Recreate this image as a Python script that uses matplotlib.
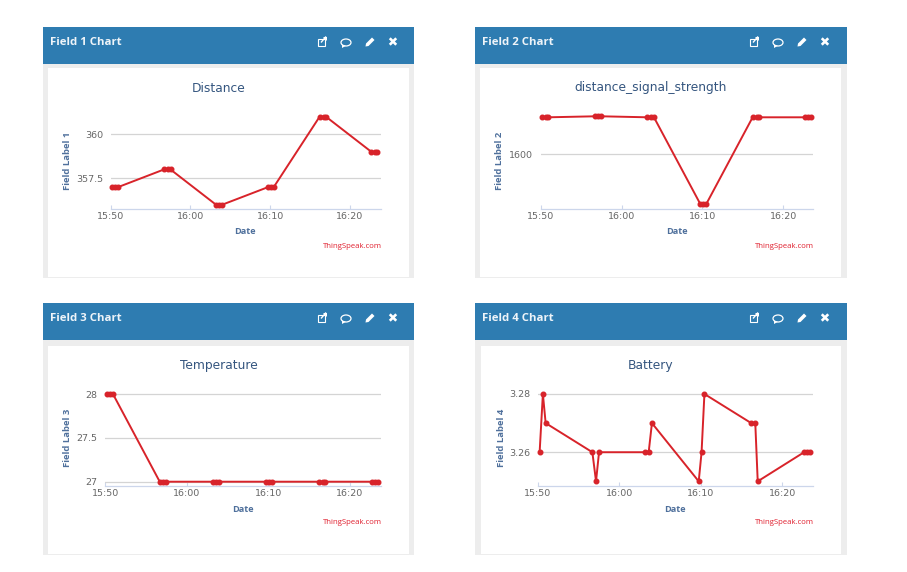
import numpy as np
import matplotlib.pyplot as plt
from matplotlib.patches import Rectangle, Ellipse, Polygon

plt.rcParams['font.family'] = ['Open Sans', 'DejaVu Sans']

W, H = 907, 572

# minutes after 15:50, three readings per visit
times = np.array([0.2, 0.6, 0.94, 6.68, 7.13, 7.5, 13.2, 13.6, 14.0,
                  19.75, 20.1, 20.45, 26.2, 26.7, 27.0, 32.7, 33.1, 33.45])

charts = [
    {'name': 'Field 1 Chart', 'title': 'Distance', 'ylabel': 'Field Label 1',
     'card': (43, 27, 414, 278), 'body': (48, 68, 409, 277),
     'box': (110.7, 381, 208.7, 100), 'xmax': 33.9, 'ylim': (355.77, 361.95),
     'yticks': [357.5, 360], 'ylabels': ['357.5', '360'],
     'title_xy': (219, 88), 'ylabel_xy': (67, 161), 'date_xy': (245, 232), 'credit_y': 246,
     'y': [357, 357, 357, 358, 358, 358, 356, 356, 356,
           357, 357, 357, 361, 361, 361, 359, 359, 359]},
    {'name': 'Field 2 Chart', 'title': 'distance_signal_strength', 'ylabel': 'Field Label 2',
     'card': (475, 27, 847, 278), 'body': (480, 68, 841, 277),
     'box': (540.7, 813.3, 208.7, 100), 'xmax': 33.7, 'ylim': (1545.6, 1654.3),
     'yticks': [1600], 'ylabels': ['1600'],
     'title_xy': (651, 88), 'ylabel_xy': (500, 161), 'date_xy': (677, 232), 'credit_y': 246,
     'y': [1637, 1637, 1637, 1638, 1638, 1638, 1637, 1637, 1637,
           1550, 1550, 1550, 1637, 1637, 1637, 1637, 1637, 1637]},
    {'name': 'Field 3 Chart', 'title': 'Temperature', 'ylabel': 'Field Label 3',
     'card': (43, 303, 414, 555), 'body': (48, 346, 409, 554),
     'box': (105.3, 381, 486, 380), 'xmax': 33.83, 'ylim': (26.951, 28.16),
     'yticks': [27, 27.5, 28], 'ylabels': ['27', '27.5', '28'],
     'title_xy': (219, 366), 'ylabel_xy': (67, 438), 'date_xy': (243, 510), 'credit_y': 523,
     'y': [28, 28, 28, 27, 27, 27, 27, 27, 27,
           27, 27, 27, 27, 27, 27, 27, 27, 27]},
    {'name': 'Field 4 Chart', 'title': 'Battery', 'ylabel': 'Field Label 4',
     'card': (475, 303, 847, 555), 'body': (481, 346, 841, 554),
     'box': (538, 813.3, 486, 380), 'xmax': 33.83, 'ylim': (3.2484, 3.2848),
     'yticks': [3.26, 3.28], 'ylabels': ['3.26', '3.28'],
     'title_xy': (651, 366), 'ylabel_xy': (501, 438), 'date_xy': (675, 510), 'credit_y': 523,
     'y': [3.26, 3.28, 3.27, 3.26, 3.25, 3.26, 3.26, 3.26, 3.27,
           3.25, 3.26, 3.28, 3.27, 3.27, 3.25, 3.26, 3.26, 3.26]},
]

plt.figure(figsize=(W / 100, H / 100), dpi=100)

# page background in pixel coordinates, cards and header icons go here
page = plt.axes([0, 0, 1, 1])
page.set_xlim(0, W)
page.set_ylim(H, 0)
page.axis('off')

for c in charts:
    x0, y0, x1, y1 = c['card']
    page.add_patch(Rectangle((x0, y0), x1 - x0, y1 - y0, color='#ededed', lw=0))
    page.add_patch(Rectangle((x0, y0), x1 - x0, 37, color='#2e7cb1', lw=0))
    bx0, by0, bx1, by1 = c['body']
    page.add_patch(Rectangle((bx0, by0), bx1 - bx0, by1 - by0, color='white', lw=0))
    page.text(x0 + 7, y0 + 15.5, c['name'], color='#eef4f9', fontsize=8.2, fontweight='bold', va='center')
    ym = y0 + 14.5
    # external link icon
    xi = x0 + 279
    page.add_patch(Rectangle((xi - 4, ym - 3), 7, 7, fill=False, ec='white', lw=0.8))
    page.add_patch(Polygon([(xi - 1, ym + 1), (xi + 4, ym - 5)], closed=False, ec='white', lw=1))
    page.add_patch(Polygon([(xi + 1, ym - 5), (xi + 5, ym - 5), (xi + 5, ym - 1)], color='white', lw=0))
    # comment bubble
    xi = x0 + 303
    page.add_patch(Ellipse((xi, ym + 1), 10, 7, fill=False, ec='white', lw=0.9))
    page.add_patch(Polygon([(xi - 4, ym + 3), (xi - 4, ym + 6.5), (xi, ym + 4.3)], color='white', lw=0))
    # pencil
    xi = x0 + 327
    page.add_patch(Polygon([(xi - 4.5, ym + 5), (xi - 4, ym + 2), (xi + 2, ym - 4), (xi + 4.5, ym - 1.5),
                            (xi - 1.5, ym + 4.5)], color='white', lw=0))
    # close cross
    xi = x0 + 350
    page.plot([xi - 2.3, xi + 2.3], [ym - 2.3, ym + 2.3], color='white', lw=1.9)
    page.plot([xi - 2.3, xi + 2.3], [ym + 2.3, ym - 2.3], color='white', lw=1.9)
    page.text(c['title_xy'][0], c['title_xy'][1], c['title'], color='#34557f', fontsize=8.8,
              family='DejaVu Sans', ha='center', va='center')
    page.text(c['date_xy'][0], c['date_xy'][1], 'Date', color='#4f709c', fontsize=6.6,
              fontweight='bold', ha='center', va='center')
    page.text(c['box'][1] + 0.5, c['credit_y'], 'ThingSpeak.com', color='#e0202f', fontsize=5.6,
              ha='right', va='center')
    page.text(c['ylabel_xy'][0], c['ylabel_xy'][1], c['ylabel'], color='#4f709c', fontsize=6.8,
              fontweight='bold', rotation=90, ha='center', va='center')

page.set_xlim(0, W)
page.set_ylim(H, 0)

for c in charts:
    left, right, bottom, top = c['box']
    plt.axes([left / W, 1 - bottom / H, (right - left) / W, (bottom - top) / H])
    plt.plot(times, c['y'], color='#d8232a', lw=1.4, marker='o', ms=3.3, clip_on=False, zorder=5)
    plt.xlim(0, c['xmax'])
    plt.ylim(c['ylim'])
    plt.xticks([0, 10, 20, 30], ['15:50', '16:00', '16:10', '16:20'], family='DejaVu Sans')
    plt.yticks(c['yticks'], c['ylabels'], family='DejaVu Sans')
    plt.grid(axis='y', color='#d4d4d4', lw=0.9)
    plt.tick_params(axis='x', direction='in', length=3, width=0.8, color='#ccd6eb',
                    labelsize=6.8, labelcolor='#666666', pad=2.5)
    plt.tick_params(axis='y', length=0, labelsize=6.8, labelcolor='#666666', pad=5.5)
    ax = plt.gca()
    ax.patch.set_alpha(0)
    ax.set_axisbelow(True)
    for side in ['top', 'right', 'left']:
        ax.spines[side].set_visible(False)
    ax.spines['bottom'].set_color('#ccd6eb')
    ax.spines['bottom'].set_linewidth(0.9)

plt.savefig('out.png', dpi=100)
